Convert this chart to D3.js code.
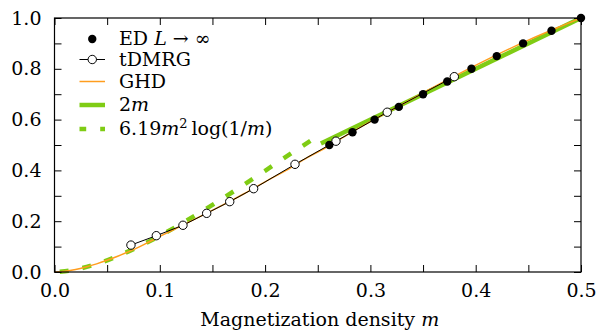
<!DOCTYPE html>
<html><head><meta charset="utf-8">
<script src="https://cdn.jsdelivr.net/npm/d3@7"></script>
<style>body{margin:0;background:#fff}svg{display:block}text{font-family:"DejaVu Serif",serif;fill:#000}</style>
</head><body><svg id="c" width="605" height="335"></svg>
<script>
// Data
const ghdM = [0,0.01,0.02,0.03,0.04,0.05,0.06,0.07,0.08,0.09,0.10,0.12,0.14,0.16,0.18,0.20,0.22,0.24,0.26,0.28,0.30,0.33,0.36,0.39,0.42,0.45,0.48,0.50];
const ghdY = [0,0.003,0.010,0.020,0.032,0.046,0.062,0.079,0.098,0.119,0.140,0.181,0.222,0.264,0.308,0.355,0.400,0.450,0.495,0.545,0.592,0.660,0.728,0.793,0.855,0.913,0.966,1.0];
const dmrgM = [0.0726,0.0967,0.122,0.1445,0.1664,0.1891,0.2284,0.2673,0.316,0.3797];
const dmrgY = [0.106,0.143,0.184,0.231,0.277,0.328,0.424,0.515,0.629,0.769];
const edM = [0.261,0.283,0.304,0.327,0.350,0.373,0.396,0.420,0.445,0.472,0.5];
const edY = [0.50,0.55,0.60,0.65,0.70,0.75,0.80,0.85,0.90,0.95,1.0];
const asymM = [0.005,0.02,0.04,0.06,0.08,0.10,0.125,0.15,0.175,0.20,0.225,0.247];
const asymY = [0.0008,0.0097,0.0319,0.0627,0.1001,0.1425,0.2011,0.2642,0.3304,0.3985,0.4675,0.527];
const linM = [0.253,0.5];
const linY = [0.506,1.0];
const xTickVals = [0,0.05,0.1,0.15,0.2,0.25,0.3,0.35,0.4,0.45,0.5];
const xTickLabels = ["0.0","","0.1","","0.2","","0.3","","0.4","","0.5"];
const yTickVals = [0,0.1,0.2,0.3,0.4,0.5,0.6,0.7,0.8,0.9,1.0];
const yTickLabels = ["0.0","","0.2","","0.4","","0.6","","0.8","","1.0"];

const GREEN = "#7fcc14", ORANGE = "#ff9d1e";
const svg = d3.select("#c");
const L = 54.5, R = 581, T = 18, B = 272;
const x = d3.scaleLinear().domain([0,0.5]).range([L,R]);
const y = d3.scaleLinear().domain([0,1]).range([B,T]);
const FS = 19;

const zip = (a,b) => a.map((v,i)=>[v,b[i]]);
const line = d3.line().x(d=>x(d[0])).y(d=>y(d[1]));
const curve = d3.line().x(d=>x(d[0])).y(d=>y(d[1])).curve(d3.curveMonotoneX);

const plot = svg.append("g");
plot.append("path").attr("d", curve(zip(asymM,asymY))).attr("fill","none")
  .attr("stroke",GREEN).attr("stroke-width",4.5).attr("stroke-dasharray","9,14");
plot.append("path").attr("d", line(zip(linM,linY))).attr("fill","none")
  .attr("stroke",GREEN).attr("stroke-width",4.5);
plot.append("path").attr("d", curve(zip(ghdM,ghdY))).attr("fill","none")
  .attr("stroke",ORANGE).attr("stroke-width",1.5);
plot.append("path").attr("d", line(zip(dmrgM,dmrgY))).attr("fill","none")
  .attr("stroke","#000").attr("stroke-width",1);
plot.selectAll("circle.dm").data(zip(dmrgM,dmrgY)).join("circle").attr("class","dm")
  .attr("cx",d=>x(d[0])).attr("cy",d=>y(d[1])).attr("r",4.2)
  .attr("fill","#fff").attr("stroke","#000").attr("stroke-width",1);
plot.selectAll("circle.ed").data(zip(edM,edY)).join("circle").attr("class","ed")
  .attr("cx",d=>x(d[0])).attr("cy",d=>y(d[1])).attr("r",4.2).attr("fill","#000");

// Axes (ticks inward on all four sides)
const tl = 7;
const gB = svg.append("g").attr("transform",`translate(0,${B})`)
  .call(d3.axisBottom(x).tickValues(xTickVals).tickSizeInner(-tl).tickSizeOuter(0)
    .tickPadding(12).tickFormat((d,i)=>xTickLabels[i]));
const gT = svg.append("g").attr("transform",`translate(0,${T})`)
  .call(d3.axisTop(x).tickValues(xTickVals).tickSizeInner(-tl).tickSizeOuter(0).tickFormat(""));
const gL = svg.append("g").attr("transform",`translate(${L},0)`)
  .call(d3.axisLeft(y).tickValues(yTickVals).tickSizeInner(-tl).tickSizeOuter(0)
    .tickPadding(13).tickFormat((d,i)=>yTickLabels[i]));
const gR = svg.append("g").attr("transform",`translate(${R},0)`)
  .call(d3.axisRight(y).tickValues(yTickVals).tickSizeInner(-tl).tickSizeOuter(0).tickFormat(""));
[gB,gT,gL,gR].forEach(g=>{
  g.select(".domain").remove();
  g.selectAll("line").attr("stroke","#000").attr("stroke-width",1);
  g.selectAll("text").attr("font-size",FS).attr("font-family",null);
});
gB.selectAll("text").attr("dy","0.71em");
svg.append("rect").attr("x",L).attr("y",T).attr("width",R-L).attr("height",B-T)
  .attr("fill","none").attr("stroke","#000").attr("stroke-width",1.2);

// x label
const xl = svg.append("text").attr("x",(L+R)/2+2).attr("y",326).attr("text-anchor","middle").attr("font-size",FS);
xl.append("tspan").text("Magnetization density ");
xl.append("tspan").attr("font-style","italic").text("m");

// Legend
const lx0 = 79.5, lx1 = 105, tx = 119;
const rows = [39, 59.5, 81.5, 105, 129];
const lg = svg.append("g");
lg.append("circle").attr("cx",(lx0+lx1)/2).attr("cy",rows[0]).attr("r",4.2).attr("fill","#000");
lg.append("line").attr("x1",lx0).attr("x2",lx1).attr("y1",rows[1]).attr("y2",rows[1]).attr("stroke","#000");
lg.append("circle").attr("cx",(lx0+lx1)/2).attr("cy",rows[1]).attr("r",4.2).attr("fill","#fff").attr("stroke","#000");
lg.append("line").attr("x1",lx0).attr("x2",lx1).attr("y1",rows[2]).attr("y2",rows[2]).attr("stroke",ORANGE).attr("stroke-width",1.5);
lg.append("line").attr("x1",lx0).attr("x2",lx1).attr("y1",rows[3]).attr("y2",rows[3]).attr("stroke",GREEN).attr("stroke-width",4.5);
lg.append("line").attr("x1",lx0).attr("x2",lx1).attr("y1",rows[4]).attr("y2",rows[4]).attr("stroke",GREEN).attr("stroke-width",4.5)
  .attr("stroke-dasharray","9,14").attr("stroke-dashoffset",2.3);

const t0 = lg.append("text").attr("x",tx).attr("y",rows[0]+6).attr("font-size",FS);
t0.append("tspan").text("ED ");
t0.append("tspan").attr("font-style","italic").text("L");
t0.append("tspan").text(" → ∞");
lg.append("text").attr("x",tx).attr("y",rows[1]+6).attr("font-size",FS).text("tDMRG");
lg.append("text").attr("x",tx).attr("y",rows[2]+6).attr("font-size",FS).text("GHD");
const t3 = lg.append("text").attr("x",tx).attr("y",rows[3]+6).attr("font-size",FS);
t3.append("tspan").text("2");
t3.append("tspan").attr("font-style","italic").text("m");
const t4 = lg.append("text").attr("x",tx).attr("y",rows[4]+6).attr("font-size",FS);
t4.append("tspan").text("6.19");
t4.append("tspan").attr("font-style","italic").text("m");
t4.append("tspan").attr("font-size",13).attr("dy",-7).text("2");
t4.append("tspan").attr("dy",7).text("\u2009log(1/");
t4.append("tspan").attr("font-style","italic").text("m");
t4.append("tspan").text(")");
</script></body></html>
